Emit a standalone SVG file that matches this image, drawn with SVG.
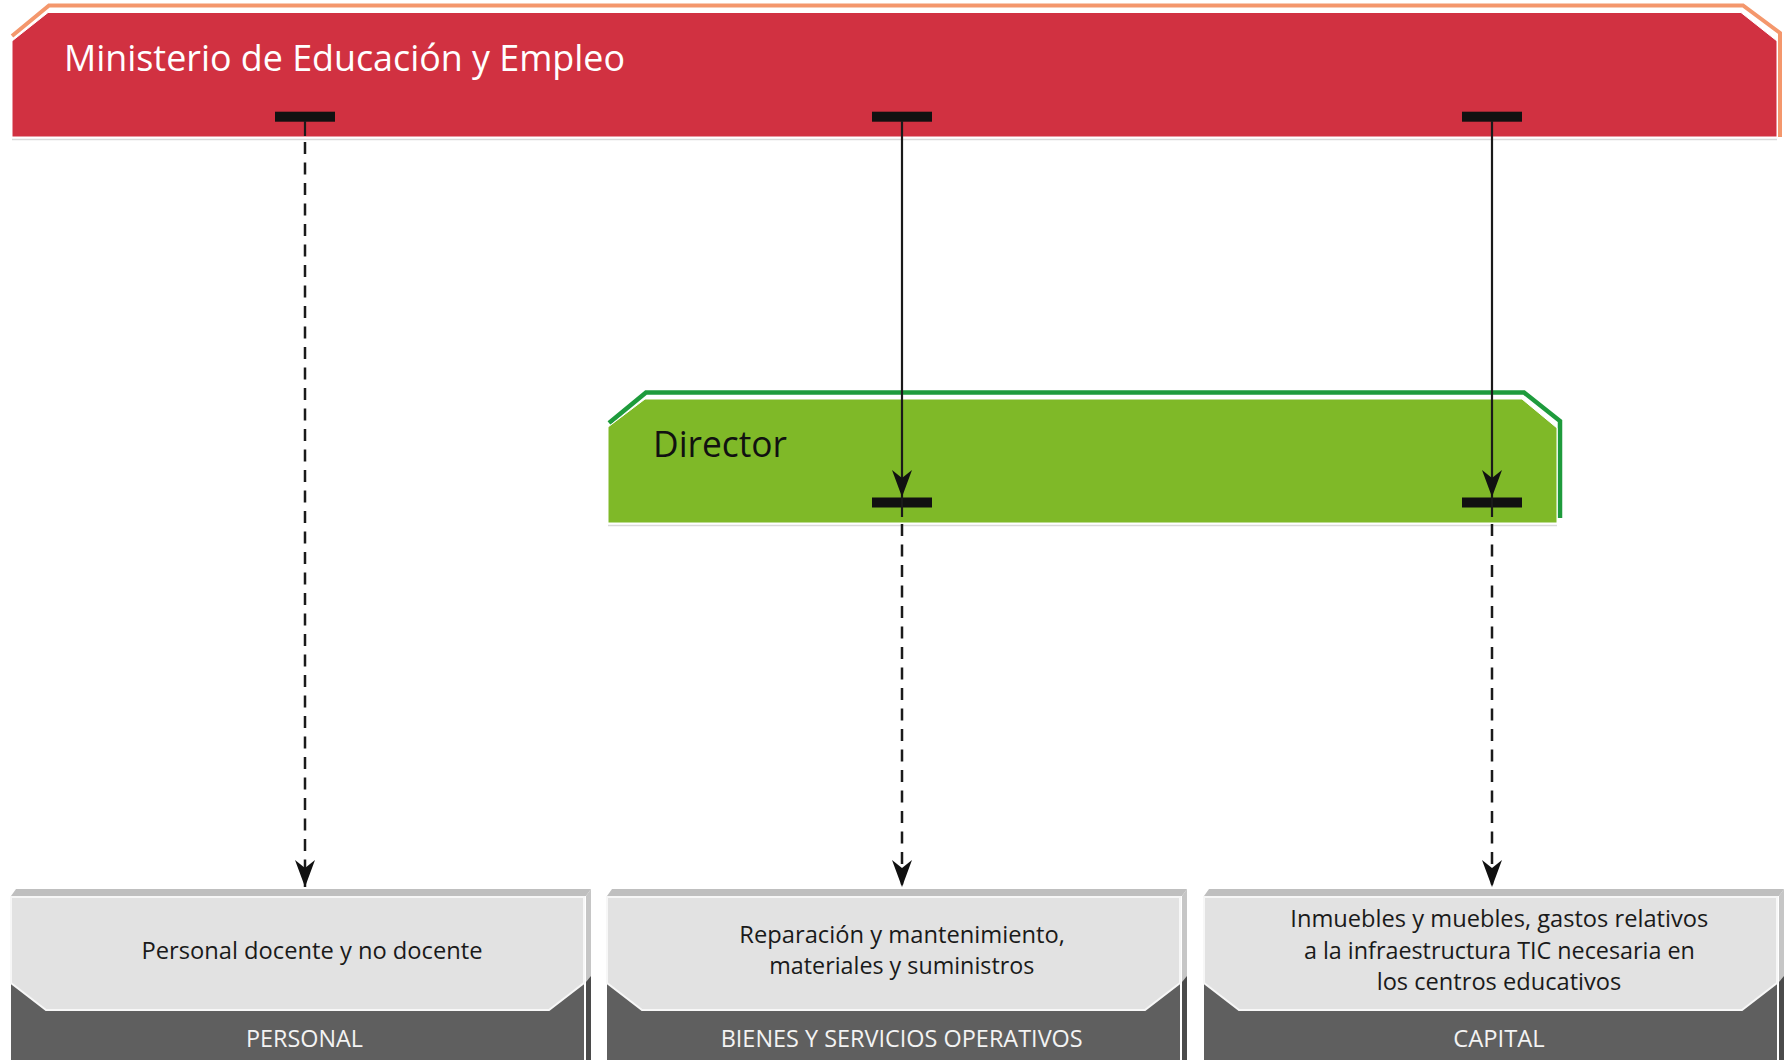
<svg xmlns="http://www.w3.org/2000/svg" xmlns:xlink="http://www.w3.org/1999/xlink" width="1787" height="1060" viewBox="0 0 1787 1060">
<style>
  text { font-family: "Open Sans", "Noto Sans", "DejaVu Sans", sans-serif; }
  .t-title { font-size: 36px; fill: #ffffff; }
  .t-dir { font-size: 36px; fill: #111111; }
  .t-body { font-size: 24px; fill: #1a1a1a; }
  .t-label { font-size: 23.5px; fill: #f3f3f3; }
  .bar { fill: #111111; }
  .conn { stroke: #1a1a1a; stroke-width: 2.2; fill: none; }
  .dash { stroke-dasharray: 12 8.5; stroke-width: 2.5; }
  .shadow { stroke: #d9d9d9; stroke-width: 1.5; }
</style>
<defs>
  <marker id="arrow" viewBox="0 0 27 20" refX="27" refY="10" markerWidth="27" markerHeight="20" markerUnits="userSpaceOnUse" orient="auto">
    <path d="M0,0 L27,10 L0,20 L8,10 Z" fill="#111111"/>
  </marker>
  <g id="boxShape">
    <rect x="0" y="896" width="573" height="164" fill="#5f5f5f"/>
    <polygon points="0,896 5,889 580,889 575,896" fill="#bfbfbf"/>
    <polygon points="575,896 580,889 580,1060 575,1060" fill="#c6c6c6"/>
    <polygon points="575,982 580,976 580,1060 575,1060" fill="#4b4b4b"/>
    <polygon points="0,897 573,897 573,983 538,1010 35,1010 0,983" fill="#e2e2e2" stroke="#f7f7f7" stroke-width="2"/>
  </g>
</defs>

<g id="ministerio">
  <polyline points="12,36 49,5.5 1743,5.5 1780,33 1780,137" fill="none" stroke="#f4976c" stroke-width="4"/>
  <polygon points="12,41 48,12.5 1741,12.5 1777,41 1777,137 12,137" fill="#d13141" stroke="#ffffff" stroke-width="1"/>
  <line class="shadow" x1="12" y1="139.5" x2="1777" y2="139.5"/>
  <text class="t-title" x="64" y="71" textLength="561" lengthAdjust="spacingAndGlyphs">Ministerio de Educación y Empleo</text>
  <rect class="bar" x="275" y="111.7" width="60" height="10"/>
  <rect class="bar" x="872" y="111.7" width="60" height="10"/>
  <rect class="bar" x="1462" y="111.7" width="60" height="10"/>
</g>

<g id="director">
  <polyline points="609,423 646,392.5 1524,392.5 1560,421 1560,518" fill="none" stroke="#1e9b3c" stroke-width="4.5"/>
  <polygon points="608,427 645,399 1522,399 1557,428 1557,523 608,523" fill="#7fb928" stroke="#ffffff" stroke-width="1"/>
  <line class="shadow" x1="608" y1="525.5" x2="1557" y2="525.5"/>
  <text class="t-dir" x="653" y="457" textLength="134" lengthAdjust="spacingAndGlyphs">Director</text>
  <rect class="bar" x="872" y="497.5" width="60" height="10"/>
  <rect class="bar" x="1462" y="497.5" width="60" height="10"/>
</g>

<g id="connectors">
  <line class="conn" x1="305" y1="121" x2="305" y2="136"/>
  <path class="conn dash" d="M305,142 V887" marker-end="url(#arrow)"/>
  <path class="conn" d="M902,121 V497" marker-end="url(#arrow)"/>
  <line class="conn" x1="902" y1="497" x2="902" y2="517"/>
  <path class="conn dash" d="M902,524 V887" marker-end="url(#arrow)"/>
  <path class="conn" d="M1492,121 V497" marker-end="url(#arrow)"/>
  <line class="conn" x1="1492" y1="497" x2="1492" y2="517"/>
  <path class="conn dash" d="M1492,524 V887" marker-end="url(#arrow)"/>
</g>

<g id="personal">
  <use xlink:href="#boxShape" href="#boxShape" transform="translate(11,0)"/>
  <text class="t-body" x="141.5" y="958.5" textLength="341" lengthAdjust="spacingAndGlyphs">Personal docente y no docente</text>
  <text class="t-label" x="246" y="1047" textLength="117" lengthAdjust="spacingAndGlyphs">PERSONAL</text>
</g>

<g id="bienes">
  <use xlink:href="#boxShape" href="#boxShape" transform="translate(607,0)"/>
  <text class="t-body" x="739.3" y="942.5" textLength="325.7" lengthAdjust="spacingAndGlyphs">Reparación y mantenimiento,</text>
  <text class="t-body" x="769.3" y="974" textLength="265" lengthAdjust="spacingAndGlyphs">materiales y suministros</text>
  <text class="t-label" x="720.7" y="1047" textLength="362" lengthAdjust="spacingAndGlyphs">BIENES Y SERVICIOS OPERATIVOS</text>
</g>

<g id="capital">
  <use xlink:href="#boxShape" href="#boxShape" transform="translate(1204,0)"/>
  <text class="t-body" x="1290.3" y="926.6" textLength="418" lengthAdjust="spacingAndGlyphs">Inmuebles y muebles, gastos relativos</text>
  <text class="t-body" x="1303.9" y="958.5" textLength="391" lengthAdjust="spacingAndGlyphs">a la infraestructura TIC necesaria en</text>
  <text class="t-body" x="1376.7" y="990.4" textLength="244.6" lengthAdjust="spacingAndGlyphs">los centros educativos</text>
  <text class="t-label" x="1453.3" y="1047" textLength="91.4" lengthAdjust="spacingAndGlyphs">CAPITAL</text>
</g>
</svg>
